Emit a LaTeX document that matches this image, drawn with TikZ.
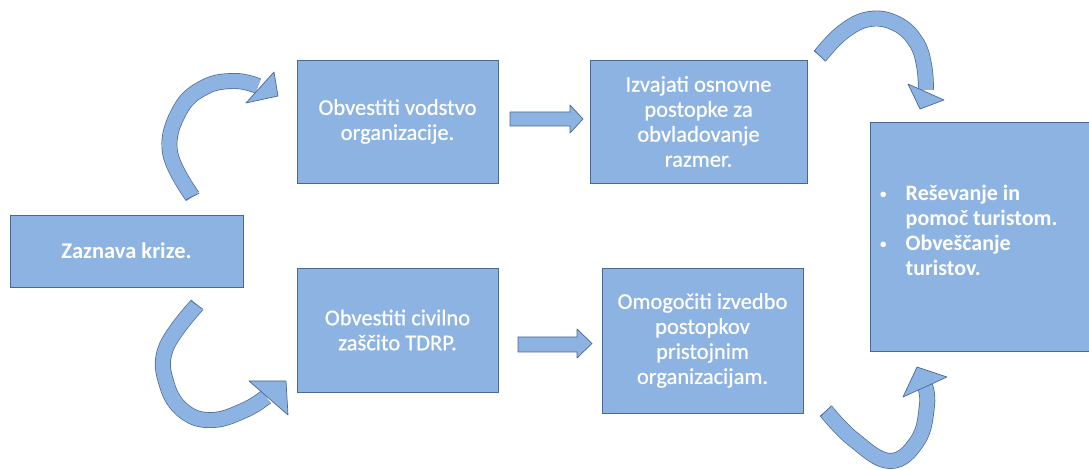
\documentclass[tikz,border=0pt]{standalone}
\usepackage{fontspec}
\setmainfont{Carlito}
\newfontfamily\semib[FakeBold=0.6]{Carlito}
\usetikzlibrary{calc}
\definecolor{boxfill}{HTML}{8DB3E2}
\definecolor{boxline}{HTML}{4A6894}
\begin{document}
\begin{tikzpicture}[x=1pt,y=1pt,
  txt/.style={font=\fontsize{22.5}{25}\selectfont\semib},
  box/.style={draw=boxline, fill=boxfill, line width=0.8pt, text=white, align=center, inner sep=0pt, txt},
  blockarrow/.style={draw=boxline, fill=boxfill, line width=0.7pt, line join=round},
  band/.style={draw=boxline, line width=0.7pt, double=boxfill, double distance=14.5pt},
  tailend/.style={draw=boxline, line width=0.7pt}]
\useasboundingbox (0,0) rectangle (1089,470);

\node[box, minimum width=233, minimum height=72, font=\fontsize{22.5}{25}\selectfont\bfseries] (zaz) at (126.5,219) {Zaznava krize.};
\node[box, minimum width=201, minimum height=123] (vod) at (397.5,348.5) {Obvestiti vodstvo\\organizacije.};
\node[box, minimum width=201, minimum height=124] (civ) at (397.5,140) {Obvestiti civilno\\zaščito TDRP.};
\node[box, minimum width=217, minimum height=123] (izv) at (698.5,348.5) {Izvajati osnovne\\postopke za\\obvladovanje\\razmer.};
\node[box, minimum width=201, minimum height=145] (omo) at (702.5,129.5) {Omogočiti izvedbo\\postopkov\\pristojnim\\organizacijam.};
\node[box, minimum width=228, minimum height=229, anchor=south west] (res) at (870,118) {};
\node[anchor=west, text=white, inner sep=0pt, font=\fontsize{22}{25}\selectfont\bfseries, align=left] (restxt) at (880,237)
  {\begin{tabular}{@{}l@{\hspace{19pt}}l@{}}{\fontsize{13}{13}\selectfont\raisebox{1.5pt}{•}}&Reševanje in\\&pomoč turistom.\\{\fontsize{13}{13}\selectfont\raisebox{1.5pt}{•}}&Obveščanje\\&turistov.\end{tabular}};

% straight block arrows
\filldraw[blockarrow] (510,344) -- (570,344) -- (570,337) -- (583,351) -- (570,365) -- (570,358) -- (510,358) -- cycle;
\filldraw[blockarrow] (518,118) -- (577,118) -- (577,112) -- (592,126.5) -- (577,141) -- (577,133) -- (518,133) -- cycle;

% curved block arrows
\draw[band] plot[smooth, tension=0.7] coordinates {(192.5,273.5) (170,318) (180,360) (205,383) (235,389) (258,384)};
\draw[tailend] (199.3,276.9) -- (185.7,270.1);
\filldraw[blockarrow] (274,398) -- (278,374) -- (246,367) -- cycle;

\draw[band] plot[smooth, tension=0.7] coordinates {(197,165) (166,122) (167,85) (185,58) (213,50) (245,60) (266,73)};
\draw[tailend] (203.2,160.6) -- (190.8,169.4);
\filldraw[blockarrow] (249,89) -- (286,89) -- (288,55) -- cycle;

\draw[band] plot[smooth, tension=0.7] coordinates {(820,414) (843,438) (870,451) (897,446) (916,428) (924,405) (926,380)};
\draw[tailend] (825.5,408.7) -- (814.5,419.3);
\filldraw[blockarrow] (908,386) -- (920,361) -- (944,370) -- cycle;

\draw[band] plot[smooth, tension=0.7] coordinates {(826,59) (853,31) (890,9) (918,30) (927,65) (925,84)};
\draw[tailend] (831.5,64.3) -- (820.5,53.7);
\filldraw[blockarrow] (947,93) -- (917,103) -- (903,73) -- cycle;
\end{tikzpicture}
\end{document}
